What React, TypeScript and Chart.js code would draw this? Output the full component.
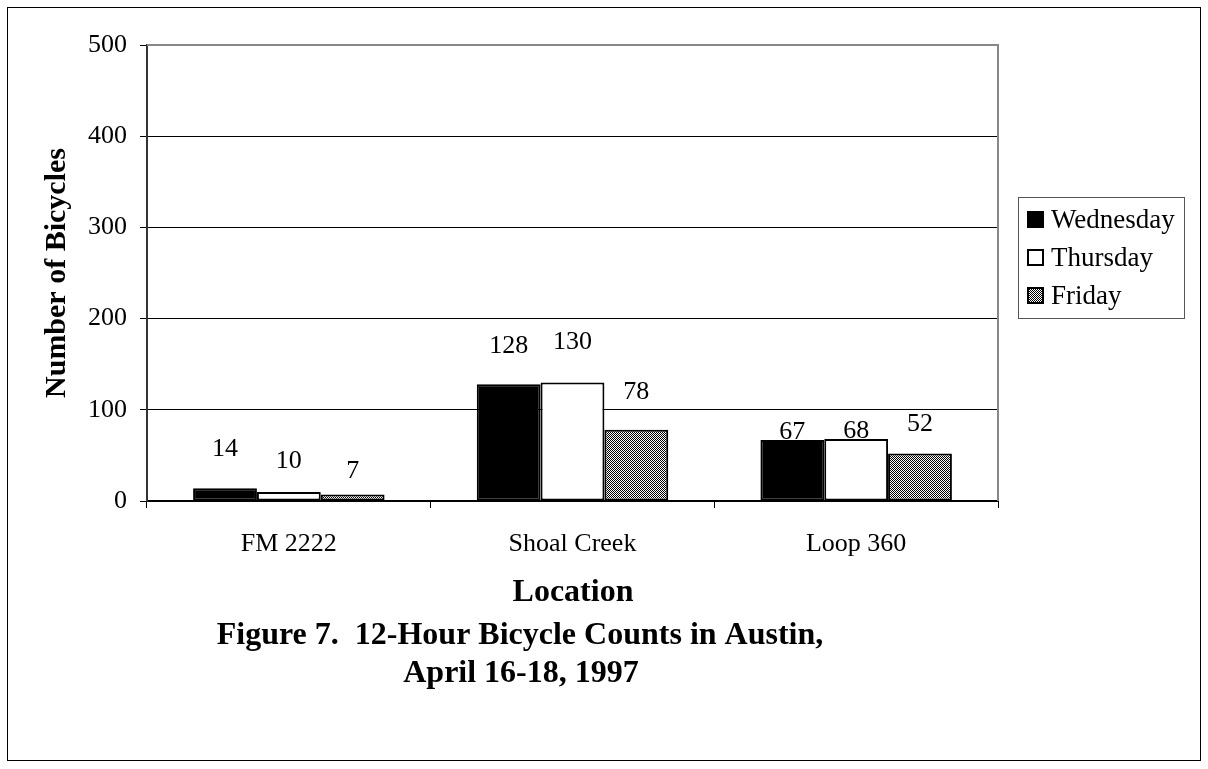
import React, { useEffect, useRef } from "react";
import { Chart, registerables } from "chart.js";

Chart.register(...registerables);

const categories = ["FM 2222", "Shoal Creek", "Loop 360"];
const wednesday = [14, 128, 67];
const thursday = [10, 130, 68];
const friday = [7, 78, 52];
const seriesNames = ["Wednesday", "Thursday", "Friday"];
const yTicks = [0, 100, 200, 300, 400, 500];
const yTitle = "Number of Bicycles";
const xTitle = "Location";
const captionLines = ["Figure 7.  12-Hour Bicycle Counts in Austin,", "April 16-18, 1997"];
// label distance (px) above bar top, per category / series, as placed in the original
const labelLift = [
  [39, 31, 23],
  [38, 40, 38],
  [8, 8, 29],
];

const SERIF = '"Liberation Serif", "Times New Roman", serif';

function makePattern(): CanvasPattern | string {
  const c = document.createElement("canvas");
  c.width = 2;
  c.height = 2;
  const g = c.getContext("2d");
  if (!g) return "#888";
  g.fillStyle = "#ffffff";
  g.fillRect(0, 0, 2, 2);
  g.fillStyle = "#000000";
  g.fillRect(0, 0, 1, 1);
  g.fillRect(1, 1, 1, 1);
  const p = g.createPattern(c, "repeat");
  return p || "#888";
}

export default function App() {
  const ref = useRef<HTMLCanvasElement | null>(null);

  useEffect(() => {
    const canvas = ref.current;
    if (!canvas) return;
    const pattern = makePattern();
    const fills: (string | CanvasPattern)[] = ["#000000", "#ffffff", pattern];

    const decor = {
      id: "decor",
      beforeDraw(chart: any) {
        const ctx = chart.ctx;
        ctx.save();
        ctx.fillStyle = "#ffffff";
        ctx.fillRect(0, 0, chart.width, chart.height);
        ctx.strokeStyle = "#000000";
        ctx.lineWidth = 1;
        ctx.strokeRect(7.5, 7.5, 1193, 753);
        ctx.restore();
      },
      afterDraw(chart: any) {
        const ctx = chart.ctx;
        const a = chart.chartArea;
        ctx.save();
        // plot area border (top/right) in gray
        ctx.strokeStyle = "#888888";
        ctx.lineWidth = 2;
        ctx.beginPath();
        ctx.moveTo(a.left, a.top);
        ctx.lineTo(a.right, a.top);
        ctx.lineTo(a.right, a.bottom);
        ctx.stroke();

        // data labels
        ctx.fillStyle = "#000000";
        ctx.font = `26px ${SERIF}`;
        ctx.textAlign = "center";
        ctx.textBaseline = "middle";
        chart.data.datasets.forEach((ds: any, di: number) => {
          const meta = chart.getDatasetMeta(di);
          meta.data.forEach((el: any, i: number) => {
            const lift = labelLift[i][di];
            ctx.fillText(String(ds.data[i]), el.x, el.y - lift);
          });
        });

        // legend
        const lx = 1018, ly = 197, lw = 166, lh = 121;
        ctx.strokeStyle = "#555555";
        ctx.lineWidth = 1;
        ctx.strokeRect(lx + 0.5, ly + 0.5, lw, lh);
        ctx.textAlign = "left";
        ctx.font = `27px ${SERIF}`;
        seriesNames.forEach((name, i) => {
          const cy = 220 + i * 38;
          ctx.fillStyle = fills[i] as any;
          ctx.fillRect(1028, cy - 8, 15, 15);
          ctx.strokeStyle = "#000000";
          ctx.lineWidth = 2;
          ctx.strokeRect(1028, cy - 8, 15, 15);
          ctx.fillStyle = "#000000";
          ctx.fillText(name, 1051, cy + 1);
        });

        // axis titles
        ctx.textAlign = "center";
        ctx.textBaseline = "middle";
        ctx.font = `bold 32px ${SERIF}`;
        ctx.fillText(xTitle, 573, 593);
        ctx.save();
        ctx.translate(57, 273);
        ctx.rotate(-Math.PI / 2);
        ctx.font = `bold 30px ${SERIF}`;
        ctx.fillText(yTitle, 0, 0);
        ctx.restore();

        // caption
        ctx.font = `bold 32px ${SERIF}`;
        ctx.fillText(captionLines[0], 520, 636);
        ctx.fillText(captionLines[1], 521, 674);
        ctx.restore();
      },
    };

    const chart = new Chart(canvas, {
      type: "bar",
      data: {
        labels: categories,
        datasets: [
          { label: seriesNames[0], data: wednesday, backgroundColor: fills[0] as any },
          { label: seriesNames[1], data: thursday, backgroundColor: fills[1] as any },
          { label: seriesNames[2], data: friday, backgroundColor: fills[2] as any },
        ].map((d) => ({
          ...d,
          borderColor: "#000000",
          borderWidth: 2,
          borderSkipped: false,
          categoryPercentage: 0.675,
          barPercentage: 1,
        })),
      },
      options: {
        responsive: false,
        animation: false,
        devicePixelRatio: 1,
        layout: { padding: { left: 0, top: 45, right: 210, bottom: 168 } },
        plugins: {
          legend: { display: false },
          tooltip: { enabled: false },
          title: { display: false },
        },
        scales: {
          x: {
            afterFit: (s: any) => {
              s.height = 100;
            },
            grid: {
              offset: true,
              drawOnChartArea: false,
              drawTicks: true,
              tickLength: 7,
              color: "#000000",
              tickColor: "#000000",
            },
            border: { display: true, color: "#000000", width: 2 },
            ticks: {
              color: "#000000",
              font: { family: SERIF, size: 26 },
              padding: 21,
            },
          },
          y: {
            min: 0,
            max: 500,
            afterFit: (s: any) => {
              s.width = 147;
            },
            afterBuildTicks: (s: any) => {
              s.ticks = yTicks.map((v) => ({ value: v }));
            },
            grid: {
              color: (c: any) => (c.tick && c.tick.value === 500 ? "#888888" : "#000000"),
              tickColor: "#000000",
              lineWidth: 1,
              drawTicks: true,
              tickLength: 7,
            },
            border: { display: true, color: "#333333", width: 2 },
            ticks: {
              color: "#000000",
              font: { family: SERIF, size: 26 },
              padding: 13,
            },
          },
        },
      },
      plugins: [decor],
    });
    return () => chart.destroy();
  }, []);

  return (
    <canvas
      ref={ref}
      width={1208}
      height={769}
      style={{ position: "fixed", left: 0, top: 0, width: 1208, height: 769 }}
    />
  );
}
